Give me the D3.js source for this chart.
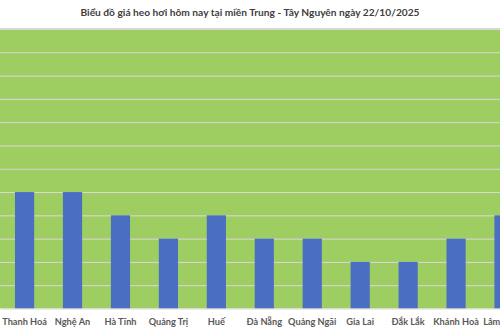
<!DOCTYPE html>
<html><head><meta charset="utf-8">
<script src="https://cdn.jsdelivr.net/npm/d3@7"></script>
<style>html,body{margin:0;padding:0;background:#fff;overflow:hidden}</style>
</head><body>
<svg id="c" width="500" height="333"></svg>
<script>
const title = "Biểu đồ giá heo hơi hôm nay tại miền Trung - Tây Nguyên ngày 22/10/2025";
const categories = ["Thanh Hoá","Nghệ An","Hà Tĩnh","Quảng Trị","Huế","Đà Nẵng","Quảng Ngãi","Gia Lai","Đắk Lắk","Khánh Hoà","Lâm Đồng"];
const prices = [51000,51000,50000,49000,50000,49000,49000,48000,48000,49000,50000];
const yTicks = [46000,47000,48000,49000,50000,51000,52000,53000,54000,55000,56000,57000,58000];

const svg = d3.select("#c");
const plot = {left:0.6, right:528, top:29, bottom:308.5};

const x = d3.scaleBand().domain(categories).range([plot.left, plot.right]).paddingInner(0.6).paddingOuter(0.3);
const y = d3.scaleLinear().domain([46000,58000]).range([plot.bottom, plot.top]);

svg.append("rect").attr("x",0).attr("y",plot.top).attr("width",500).attr("height",plot.bottom-plot.top).attr("fill","#9ecd62");
svg.append("line").attr("x1",0).attr("x2",500).attr("y1",plot.top-0.5).attr("y2",plot.top-0.5).attr("stroke","#d6d6d6").attr("stroke-width",1);

const grid = svg.append("g")
  .call(d3.axisLeft(y).tickValues(yTicks.slice(1)).tickSize(-600).tickFormat(""));
grid.select(".domain").remove();
grid.selectAll(".tick line").attr("stroke","#d9d9d9").attr("stroke-width",1);

svg.append("g").selectAll("rect").data(categories).join("rect")
  .attr("x",d=>x(d)).attr("width",x.bandwidth())
  .attr("y",(d,i)=>y(prices[i])).attr("height",(d,i)=>y(46000)-y(prices[i]))
  .attr("fill","#4a6fc2");

const xa = svg.append("g").attr("transform",`translate(0,${plot.bottom})`)
  .call(d3.axisBottom(x).tickSize(0).tickPadding(10));
xa.select(".domain").attr("stroke","#d9d9d9");
xa.selectAll("text").attr("font-family","Lato, 'Open Sans', sans-serif").attr("font-size","9.2px")
  .attr("font-weight","bold").attr("fill","#595959");

svg.append("text").attr("x",250).attr("y",16).attr("text-anchor","middle")
  .attr("font-family","Lato, 'Open Sans', sans-serif").attr("font-size","10.2px").attr("font-weight","bold")
  .attr("fill","#404040").text(title);
</script>
</body></html>
